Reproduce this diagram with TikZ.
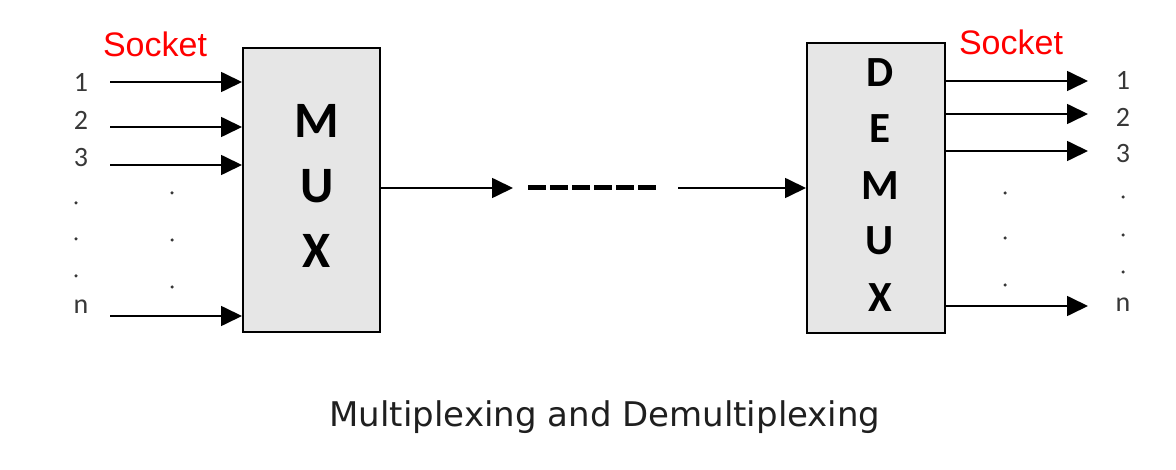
\documentclass[tikz,border=0pt]{standalone}
\usepackage{fontspec}
\setmainfont{Carlito}
\newfontfamily\socketfont{Liberation Sans}
\newfontfamily\titlefont{DejaVu Sans}
\usetikzlibrary{arrows.meta}
\definecolor{boxgray}{HTML}{E6E6E6}
\definecolor{labgray}{HTML}{383838}
\tikzset{
  blk/.style={draw=black, line width=2pt, fill=boxgray, inner sep=0pt},
  conn/.style={line width=1.7pt, -{Triangle[length=21pt,width=20pt]}},
  lab/.style={anchor=base, inner sep=0pt, text=labgray, font=\fontsize{28}{28}\selectfont},
  muxletter/.style={anchor=base, inner sep=0pt, font=\bfseries\fontsize{51}{51}\selectfont},
  demuxletter/.style={anchor=base, inner sep=0pt, font=\bfseries\fontsize{43}{43}\selectfont},
  sock/.style={anchor=base, inner sep=0pt, text=red, font=\socketfont\fontsize{34}{34}\selectfont},
  vdot/.style={circle, fill=labgray, inner sep=0pt, minimum size=3.5pt},
}
\begin{document}
\begin{tikzpicture}[x=1pt,y=-1pt]
\useasboundingbox (0,0) rectangle (1176,470);
% boxes
\node[blk, minimum width=137pt, minimum height=284pt] (mux) at (311.5,190) {};
\node[blk, minimum width=138pt, minimum height=290pt] (demux) at (876,188) {};
% MUX letters
\node[muxletter] (mM) at (317,138) {M};
\node[muxletter] (mU) at (317,203) {U};
\node[muxletter] (mX) at (317,268) {X};
% DEMUX letters
\node[demuxletter] (dD) at (880,87) {D};
\node[demuxletter] (dE) at (880,143) {E};
\node[demuxletter] (dM) at (880,200) {M};
\node[demuxletter] (dU) at (880,255) {U};
\node[demuxletter] (dX) at (880,312) {X};
% socket labels
\node[sock] (sockL) at (155,57) {Socket};
\node[sock] (sockR) at (1011,55) {Socket};
% input labels
\node[lab] (l1) at (81,92) {1};
\node[lab] (l2) at (81,130) {2};
\node[lab] (l3) at (81,167) {3};
\node[lab] (ln) at (81,314) {n};
\node[vdot] (ld1) at (76,203) {};
\node[vdot] (ld2) at (76,239) {};
\node[vdot] (ld3) at (76,276) {};
\node[vdot] (lm1) at (172,193) {};
\node[vdot] (lm2) at (172,240) {};
\node[vdot] (lm3) at (172,287) {};
% input arrows
\coordinate (i1) at (110,82);
\coordinate (i2) at (110,127);
\coordinate (i3) at (110,165);
\coordinate (in) at (110,316);
\draw[conn] (i1) -- (i1 -| mux.west);
\draw[conn] (i2) -- (i2 -| mux.west);
\draw[conn] (i3) -- (i3 -| mux.west);
\draw[conn] (in) -- (in -| mux.west);
% middle link
\coordinate (m1) at (513,188);
\coordinate (d1) at (528,188);
\coordinate (d2) at (657,188);
\coordinate (m2) at (678,188);
\draw[conn] (m1 -| mux.east) -- (m1);
\draw[line width=5pt, dash pattern=on 18pt off 4pt] (d1) -- (d2);
\draw[conn] (m2) -- (m2 -| demux.west);
% outputs
\coordinate (o1) at (1088,81);
\coordinate (o2) at (1088,114);
\coordinate (o3) at (1088,151);
\coordinate (on) at (1088,306);
\draw[conn] (o1 -| demux.east) -- (o1);
\draw[conn] (o2 -| demux.east) -- (o2);
\draw[conn] (o3 -| demux.east) -- (o3);
\draw[conn] (on -| demux.east) -- (on);
\node[lab] (r1) at (1123,90) {1};
\node[lab] (r2) at (1123,127) {2};
\node[lab] (r3) at (1123,163) {3};
\node[lab] (rn) at (1123,312) {n};
\node[vdot] (rm1) at (1005,193) {};
\node[vdot] (rm2) at (1005,238) {};
\node[vdot] (rm3) at (1005,285) {};
\node[vdot] (rd1) at (1123,197) {};
\node[vdot] (rd2) at (1123,235) {};
\node[vdot] (rd3) at (1123,272) {};
% title
\node[anchor=base, inner sep=0pt, text=black!88, font=\titlefont\fontsize{34}{34}\selectfont] (title) at (605,426) {Multiplexing and Demultiplexing};
\end{tikzpicture}
\end{document}
